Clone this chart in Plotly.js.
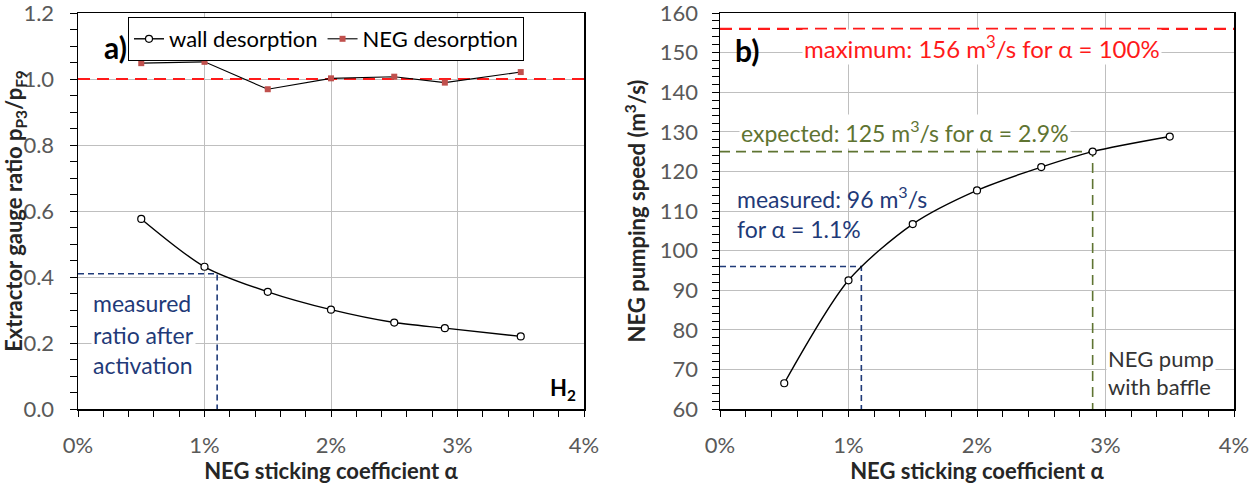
<!DOCTYPE html>
<html>
<head>
<meta charset="utf-8">
<script src="https://cdn.plot.ly/plotly-3.0.1.min.js"></script>
<style>
  html, body { margin: 0; padding: 0; background: #ffffff; }
  #chart { width: 1252px; height: 484px; }
</style>
</head>
<body>
<div id="chart"></div>
<script>
// NEG sticking coefficient (in %) used in the simulations
const alpha = [0.5, 1.0, 1.5, 2.0, 2.5, 2.9, 3.5];

// a) extractor gauge ratio pP3/pF9 for H2
const wallDesorption = [0.576, 0.431, 0.355, 0.301, 0.262, 0.245, 0.220];
const negDesorption  = [1.048, 1.052, 0.969, 1.002, 1.007, 0.989, 1.021];
const unityRatio = 1.0;
const measuredRatio = 0.41;
const measuredAlphaA = 1.1;
const ratioTicks = [0, 0.2, 0.4, 0.6, 0.8, 1.0, 1.2];

// b) NEG pumping speed (m3/s)
const pumpingSpeed = [66.5, 92.5, 106.7, 115.2, 121.1, 125.0, 128.8];
const maxSpeed = 156;
const expectedSpeed = 125;
const expectedAlpha = 2.9;
const measuredSpeed = 96;
const measuredAlpha = 1.1;
const speedTicks = [60, 70, 80, 90, 100, 110, 120, 130, 140, 150, 160];

// shared sticking-coefficient axis
const xRange = [0, 4];
const xTicks = [0, 1, 2, 3, 4];
const xTickLabels = ['0%', '1%', '2%', '3%', '4%'];

const FONT = "Lato, 'Open Sans', 'DejaVu Sans', sans-serif";
const TICK_GREY = '#595959';
const TITLE_COL = '#262626';
const GRID = '#bfbfbf';
const RED = '#ff1a1a';
const BLUE = '#1f3a78';
const OLIVE = '#5f7432';

const traces = [
  // ---- panel a ----
  {
    x: xRange, y: [unityRatio, unityRatio], xaxis: 'x', yaxis: 'y',
    mode: 'lines', line: {color: RED, width: 2.2, dash: '12px,7px'},
    showlegend: false, hoverinfo: 'skip'
  },
  {
    x: [0, measuredAlphaA, measuredAlphaA], y: [measuredRatio, measuredRatio, 0],
    xaxis: 'x', yaxis: 'y',
    mode: 'lines', line: {color: BLUE, width: 1.6, dash: '6px,4px'},
    showlegend: false, hoverinfo: 'skip'
  },
  {
    name: 'wall desorption', x: alpha, y: wallDesorption, xaxis: 'x', yaxis: 'y',
    mode: 'lines+markers',
    line: {color: '#000000', width: 1.4, shape: 'spline', smoothing: 0.8},
    marker: {symbol: 'circle', size: 7, color: '#ffffff', line: {color: '#000000', width: 1.2}}
  },
  {
    name: 'NEG desorption', x: alpha, y: negDesorption, xaxis: 'x', yaxis: 'y',
    mode: 'lines+markers',
    line: {color: '#000000', width: 1.1},
    marker: {symbol: 'square', size: 6, color: '#c0504d'}
  },
  // ---- panel b ----
  {
    x: xRange, y: [maxSpeed, maxSpeed], xaxis: 'x2', yaxis: 'y2',
    mode: 'lines', line: {color: RED, width: 2.2, dash: '12px,7px'},
    showlegend: false, hoverinfo: 'skip'
  },
  {
    x: [0, expectedAlpha, expectedAlpha], y: [expectedSpeed, expectedSpeed, 60],
    xaxis: 'x2', yaxis: 'y2',
    mode: 'lines', line: {color: OLIVE, width: 1.6, dash: '10px,6px'},
    showlegend: false, hoverinfo: 'skip'
  },
  {
    x: [0, measuredAlpha, measuredAlpha], y: [measuredSpeed, measuredSpeed, 60],
    xaxis: 'x2', yaxis: 'y2',
    mode: 'lines', line: {color: BLUE, width: 1.6, dash: '6px,4px'},
    showlegend: false, hoverinfo: 'skip'
  },
  {
    x: alpha, y: pumpingSpeed, xaxis: 'x2', yaxis: 'y2',
    mode: 'lines+markers', showlegend: false,
    line: {color: '#000000', width: 1.4, shape: 'spline', smoothing: 0.8},
    marker: {symbol: 'circle', size: 7, color: '#ffffff', line: {color: '#000000', width: 1.2}}
  }
];

function xAxis(domain, anchor) {
  return {
    domain: domain, anchor: anchor, range: xRange,
    tickmode: 'array', tickvals: xTicks, ticktext: xTickLabels,
    ticks: 'outside', ticklen: 6, tickcolor: '#000000', tickwidth: 1,
    minor: {dtick: 0.2, ticks: 'outside', ticklen: 6, tickcolor: '#000000', showgrid: false},
    showline: true, linecolor: '#000000', linewidth: 1.5, mirror: true,
    showgrid: true, gridcolor: GRID, gridwidth: 1, zeroline: false,
    tickfont: {family: FONT, size: 22, color: TICK_GREY},
    ticklabelstandoff: 10, ticklabeloverflow: 'allow',
    title: {text: 'NEG sticking coefficient α', standoff: 2,
            font: {family: FONT, size: 22, color: TITLE_COL, weight: 'bold'}}
  };
}

const layout = {
  width: 1252, height: 484,
  margin: {l: 0, r: 0, t: 0, b: 0},
  paper_bgcolor: '#ffffff', plot_bgcolor: '#ffffff',
  font: {family: FONT, color: TICK_GREY},
  showlegend: true,
  legend: {
    orientation: 'h', x: 128 / 1252, y: 1 - 17 / 484, xanchor: 'left', yanchor: 'top',
    bgcolor: '#ffffff', bordercolor: '#000000', borderwidth: 1,
    font: {family: FONT, size: 22, color: '#000000'},
    itemwidth: 30, tracegroupgap: 0
  },
  xaxis: xAxis([78 / 1252, 584 / 1252], 'y'),
  yaxis: {
    domain: [75 / 484, 471 / 484], anchor: 'x', range: [0, 1.2],
    tickmode: 'array', tickvals: ratioTicks, tickformat: '.1f',
    ticks: 'outside', ticklen: 7, tickcolor: '#000000',
    minor: {dtick: 0.05, ticks: 'outside', ticklen: 7, tickcolor: '#000000', showgrid: false},
    showline: true, linecolor: '#000000', linewidth: 1.5, mirror: true,
    showgrid: true, gridcolor: GRID, zeroline: false,
    tickfont: {family: FONT, size: 22, color: TICK_GREY},
    ticklabelstandoff: 11, ticklabeloverflow: 'allow',
    title: {text: 'Extractor gauge ratio p<sub>P3</sub>/p<sub>F9</sub>', standoff: 0,
            font: {family: FONT, size: 22, color: TITLE_COL, weight: 'bold'}}
  },
  xaxis2: xAxis([720 / 1252, 1234 / 1252], 'y2'),
  yaxis2: {
    domain: [75 / 484, 471 / 484], anchor: 'x2', range: [60, 160],
    tickmode: 'array', tickvals: speedTicks,
    ticks: 'outside', ticklen: 7, tickcolor: '#000000',
    minor: {dtick: 2, ticks: 'outside', ticklen: 7, tickcolor: '#000000', showgrid: false},
    showline: true, linecolor: '#000000', linewidth: 1.5, mirror: true,
    showgrid: true, gridcolor: GRID, zeroline: false,
    tickfont: {family: FONT, size: 22, color: TICK_GREY},
    ticklabelstandoff: 9, ticklabeloverflow: 'allow',
    title: {text: 'NEG pumping speed (m<sup>3</sup>/s)', standoff: 8,
            font: {family: FONT, size: 22, color: TITLE_COL, weight: 'bold'}}
  },
  annotations: [
    // panel a
    {xref: 'x', yref: 'y', x: 0.30, y: 1.098, text: '<b>a)</b>', showarrow: false,
     font: {family: FONT, size: 30, color: '#000000'}},
    {xref: 'x', yref: 'y', x: 0.1, y: 0.320, xanchor: 'left', text: 'measured', showarrow: false,
     bgcolor: '#ffffff', font: {family: FONT, size: 23, color: BLUE}},
    {xref: 'x', yref: 'y', x: 0.1, y: 0.225, xanchor: 'left', text: 'ratio after', showarrow: false,
     bgcolor: '#ffffff', font: {family: FONT, size: 23, color: BLUE}},
    {xref: 'x', yref: 'y', x: 0.1, y: 0.132, xanchor: 'left', text: 'activation', showarrow: false,
     bgcolor: '#ffffff', font: {family: FONT, size: 23, color: BLUE}},
    {xref: 'x', yref: 'y', x: 3.83, y: 0.06, text: '<b>H<sub>2</sub></b>', showarrow: false,
     font: {family: FONT, size: 22, color: '#000000'}},
    // panel b
    {xref: 'x2', yref: 'y2', x: 0.21, y: 150.7, text: '<b>b)</b>', showarrow: false,
     font: {family: FONT, size: 30, color: '#000000'}},
    {xref: 'x2', yref: 'y2', x: 2.04, y: 151.5,
     text: 'maximum: ' + maxSpeed + ' m<sup>3</sup>/s for α = 100%', showarrow: false,
     bgcolor: '#ffffff', font: {family: FONT, size: 24, color: RED}},
    {xref: 'x2', yref: 'y2', x: 1.44, y: 130.2,
     text: 'expected: ' + expectedSpeed + ' m<sup>3</sup>/s for α = ' + expectedAlpha + '%', showarrow: false,
     bgcolor: '#ffffff', font: {family: FONT, size: 23, color: OLIVE}},
    {xref: 'x2', yref: 'y2', x: 0.12, y: 113.3, xanchor: 'left',
     text: 'measured: ' + measuredSpeed + ' m<sup>3</sup>/s', showarrow: false,
     font: {family: FONT, size: 23, color: BLUE}},
    {xref: 'x2', yref: 'y2', x: 0.12, y: 105.4, xanchor: 'left',
     text: 'for α = ' + measuredAlpha + '%', showarrow: false,
     font: {family: FONT, size: 23, color: BLUE}},
    {xref: 'x2', yref: 'y2', x: 3.0, y: 72.7, xanchor: 'left', text: 'NEG pump', showarrow: false,
     bgcolor: '#ffffff', font: {family: FONT, size: 22, color: '#333333'}},
    {xref: 'x2', yref: 'y2', x: 3.0, y: 65.6, xanchor: 'left', text: 'with baffle', showarrow: false,
     bgcolor: '#ffffff', font: {family: FONT, size: 22, color: '#333333'}}
  ]
};

Plotly.newPlot('chart', traces, layout, {displayModeBar: false, staticPlot: true});
</script>
</body>
</html>
